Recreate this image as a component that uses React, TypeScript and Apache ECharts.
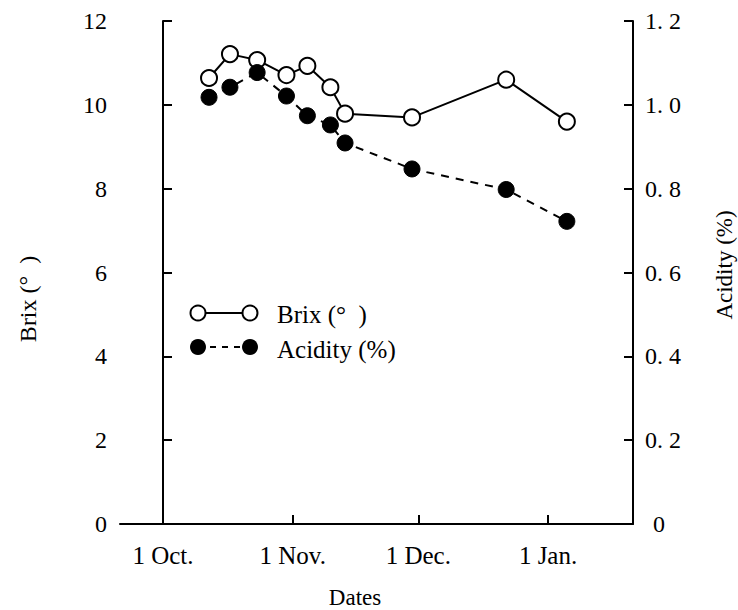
import React, { useEffect, useRef } from "react";
import * as echarts from "echarts";

// Sampling dates, as days counted from 1 October
const sampleDays = [11, 16, 22.5, 29.5, 34.5, 40, 43.5, 59.5, 82, 96.5];
// Soluble solids (°Brix)
const brixValues = [10.64, 11.21, 11.07, 10.71, 10.93, 10.42, 9.79, 9.7, 10.6, 9.6];
// Titratable acidity (%)
const acidityValues = [1.018, 1.042, 1.077, 1.021, 0.974, 0.952, 0.909, 0.847, 0.798, 0.722];

// Month marks on the date axis (days from 1 October) and their labels
const monthDays = [0, 31, 61, 92];
const monthLabels = ["1 Oct.", "1 Nov.", "1 Dec.", "1 Jan."];

const FONT = "'Liberation Serif', 'Times New Roman', serif";

export default function App() {
  const ref = useRef<HTMLDivElement>(null);

  useEffect(() => {
    if (!ref.current) return;
    const chart = echarts.init(ref.current, null, { renderer: "svg" });

    const axisLine = { show: true, lineStyle: { color: "#000", width: 2 } };
    const axisTick = { show: true, inside: true, length: 9, lineStyle: { color: "#000", width: 2 } };
    const labelStyle = { color: "#000", fontFamily: FONT, fontSize: 24 };
    const titleFont = (size: number) => `${size}px ${FONT}`;

    chart.setOption({
      animation: false,
      backgroundColor: "#fff",
      grid: { left: 120, right: 105, top: 21, bottom: 86, containLabel: false },
      xAxis: {
        type: "value",
        min: -10.27,
        max: 112.3,
        axisLine,
        axisTick: { ...axisTick, customValues: monthDays },
        axisLabel: {
          ...labelStyle,
          fontSize: 25,
          margin: 19,
          customValues: monthDays,
          formatter: (v: number) => monthLabels[monthDays.indexOf(Math.round(v))] ?? "",
        },
        splitLine: { show: false },
      },
      yAxis: [
        {
          type: "value",
          position: "left",
          min: 0,
          max: 12,
          interval: 2,
          axisLine,
          axisTick,
          axisLabel: { ...labelStyle, margin: 13 },
          splitLine: { show: false },
        },
        {
          type: "value",
          position: "right",
          min: 0,
          max: 1.2,
          interval: 0.2,
          axisLine,
          axisTick,
          axisLabel: {
            ...labelStyle,
            margin: 12,
            formatter: (v: number) =>
              Math.abs(v) < 1e-9 ? "{z|0}" : v.toFixed(1).replace(".", ". "),
            rich: { z: { ...labelStyle, padding: [0, 0, 0, 8] } },
          },
          splitLine: { show: false },
        },
      ],
      series: [
        {
          name: "Brix (°  )",
          type: "line",
          yAxisIndex: 0,
          data: sampleDays.map((d, i) => [d, brixValues[i]]),
          symbol: "circle",
          symbolSize: 16,
          lineStyle: { color: "#000", width: 2 },
          itemStyle: { color: "#fff", borderColor: "#000", borderWidth: 2 },
          z: 2,
        },
        {
          name: "Acidity (%)",
          type: "line",
          yAxisIndex: 1,
          data: sampleDays.map((d, i) => [d, acidityValues[i]]),
          symbol: "circle",
          symbolSize: 16,
          lineStyle: { color: "#000", width: 2, type: [8, 7] },
          itemStyle: { color: "#000", borderColor: "#000", borderWidth: 1 },
          z: 3,
        },
      ],
      graphic: [
        // Axis titles
        {
          type: "text",
          x: 28,
          y: 299,
          rotation: Math.PI / 2,
          style: { text: "Brix (°  )", fill: "#000", font: titleFont(24), align: "center", verticalAlign: "middle" },
        },
        {
          type: "text",
          x: 724,
          y: 265,
          rotation: Math.PI / 2,
          style: { text: "Acidity (%)", fill: "#000", font: titleFont(23), align: "center", verticalAlign: "middle" },
        },
        {
          type: "text",
          x: 355,
          y: 597,
          style: { text: "Dates", fill: "#000", font: titleFont(23), align: "center", verticalAlign: "middle" },
        },
        // Brix key: open circles joined by a solid line
        { type: "line", shape: { x1: 198, y1: 313, x2: 250, y2: 313 }, style: { stroke: "#000", lineWidth: 2 } },
        { type: "circle", shape: { cx: 198, cy: 313, r: 7.5 }, style: { fill: "#fff", stroke: "#000", lineWidth: 2 } },
        { type: "circle", shape: { cx: 250, cy: 313, r: 7.5 }, style: { fill: "#fff", stroke: "#000", lineWidth: 2 } },
        {
          type: "text",
          x: 277,
          y: 314,
          style: { text: "Brix (°  )", fill: "#000", font: titleFont(25), verticalAlign: "middle" },
        },
        // Acidity key: filled circles joined by a dashed line
        {
          type: "line",
          shape: { x1: 198, y1: 347, x2: 250, y2: 347 },
          style: { stroke: "#000", lineWidth: 2, lineDash: [6, 6] },
        },
        { type: "circle", shape: { cx: 198, cy: 347, r: 8 }, style: { fill: "#000" } },
        { type: "circle", shape: { cx: 250, cy: 347, r: 8 }, style: { fill: "#000" } },
        {
          type: "text",
          x: 277,
          y: 349,
          style: { text: "Acidity (%)", fill: "#000", font: titleFont(25), verticalAlign: "middle" },
        },
      ],
    });

    return () => chart.dispose();
  }, []);

  return (
    <div
      ref={ref}
      style={{ position: "fixed", left: 0, top: 0, width: 738, height: 610, background: "#fff" }}
    />
  );
}
